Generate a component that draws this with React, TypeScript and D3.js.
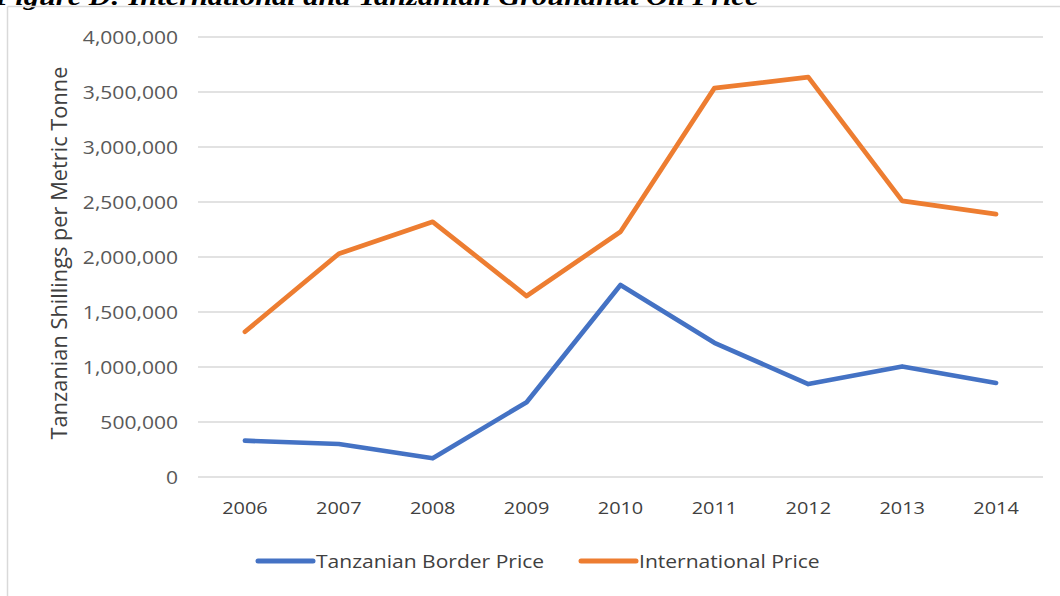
import React from "react";
import * as d3 from "d3";

const years = ["2006", "2007", "2008", "2009", "2010", "2011", "2012", "2013", "2014"];
const borderPrice = [330000, 300000, 170000, 680000, 1745000, 1220000, 845000, 1005000, 855000];
const internationalPrice = [1320000, 2030000, 2320000, 1645000, 2230000, 3535000, 3635000, 2510000, 2390000];
const yTicks = [0, 500000, 1000000, 1500000, 2000000, 2500000, 3000000, 3500000, 4000000];
const seriesNames = ["Tanzanian Border Price", "International Price"];

const W = 1060;
const H = 596;
const SX = 1.17;
const FONT = "'Open Sans', 'Noto Sans', sans-serif";

function SText({ x, y, anchor, size, fill, children }: any) {
  return (
    <g transform={`translate(${x},${y}) scale(${SX},1)`}>
      <text x={0} y={0} textAnchor={anchor} fontSize={size} fill={fill} fontFamily={FONT}>
        {children}
      </text>
    </g>
  );
}

export default function App() {
  const x = d3.scaleBand().domain(years).range([198, 1043]);
  const y = d3.scaleLinear().domain([0, 4000000]).range([477, 37]);
  const fmt = d3.format(",");
  const line = d3
    .line<number>()
    .x((_, i) => (x(years[i]) as number) + x.bandwidth() / 2)
    .y((d) => y(d));

  return (
    <svg width={W} height={H} style={{ position: "absolute", left: 0, top: 0, background: "#fff" }}>
      <rect x={0} y={0} width={W} height={H} fill="#fff" />
      {/* clipped title */}
      <g transform={`translate(-5,5) scale(${SX},1)`}>
        <text x={0} y={0} fontFamily="'Liberation Serif', 'DejaVu Serif', serif" fontWeight="bold" fontStyle="italic" fontSize={26} fill="#000">
          Figure D: International and Tanzanian Groundnut Oil Price
        </text>
      </g>
      {/* chart border */}
      <line x1={7.5} x2={7.5} y1={6.5} y2={H} stroke="#d9d9d9" strokeWidth={1.5} />
      <line x1={7.5} x2={W} y1={6.5} y2={6.5} stroke="#d9d9d9" strokeWidth={1.5} />
      {/* gridlines */}
      {yTicks.map((t) => (
        <line key={t} x1={198} x2={1043} y1={y(t)} y2={y(t)} stroke="#d9d9d9" strokeWidth={1.3} />
      ))}
      {/* y tick labels */}
      {yTicks.map((t) => (
        <SText key={t} x={178} y={y(t) + 6.5} anchor="end" size={18} fill="#595959">
          {fmt(t)}
        </SText>
      ))}
      {/* x tick labels */}
      {years.map((yr) => (
        <SText key={yr} x={(x(yr) as number) + x.bandwidth() / 2} y={514} anchor="middle" size={17} fill="#404040">
          {yr}
        </SText>
      ))}
      {/* y axis title */}
      <text
        transform={`translate(67,253) rotate(-90)`}
        textAnchor="middle"
        fontFamily={FONT}
        fontSize={21.8}
        fill="#404040"
      >
        Tanzanian Shillings per Metric Tonne
      </text>
      {/* lines */}
      <path d={line(internationalPrice) || ""} fill="none" stroke="#ED7D31" strokeWidth={4.7} strokeLinejoin="round" strokeLinecap="round" />
      <path d={line(borderPrice) || ""} fill="none" stroke="#4472C4" strokeWidth={4.7} strokeLinejoin="round" strokeLinecap="round" />
      {/* legend */}
      <line x1={258} x2={313} y1={561} y2={561} stroke="#4472C4" strokeWidth={5} strokeLinecap="round" />
      <SText x={316} y={568} anchor="start" size={18} fill="#404040">
        {seriesNames[0]}
      </SText>
      <line x1={581} x2={636} y1={561} y2={561} stroke="#ED7D31" strokeWidth={5} strokeLinecap="round" />
      <SText x={639} y={568} anchor="start" size={18} fill="#404040">
        {seriesNames[1]}
      </SText>
    </svg>
  );
}
